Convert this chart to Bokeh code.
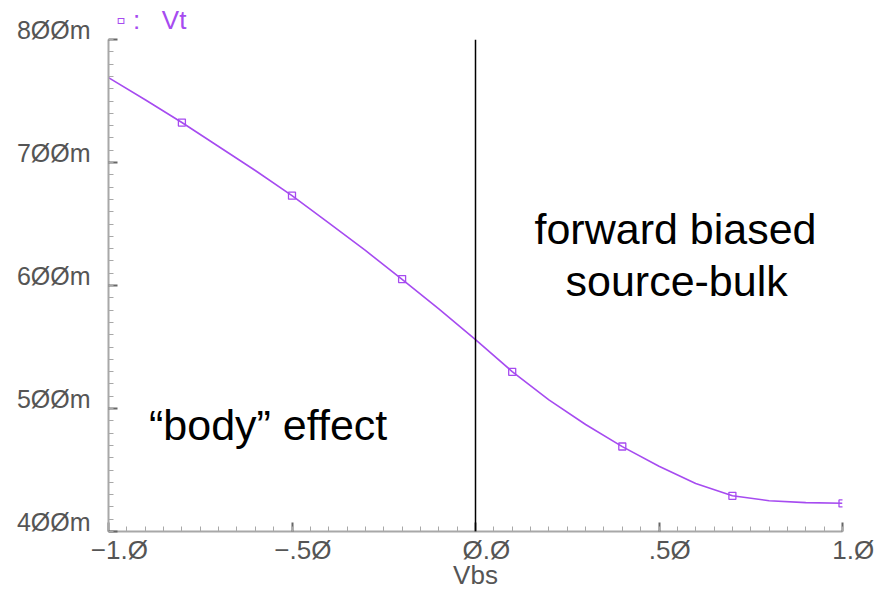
from bokeh.plotting import figure
from bokeh.models import SingleIntervalTicker, Span, Label, Range1d
from bokeh.embed import file_html
from bokeh.resources import INLINE

# ---- data ----
vbs = [-1.0, -0.9, -0.8, -0.7, -0.6, -0.5, -0.4, -0.3, -0.2, -0.1, 0.0,
       0.1, 0.2, 0.3, 0.4, 0.5, 0.6, 0.7, 0.8, 0.9, 1.0]
vt_mv = [769, 751, 732.5, 713, 693.5, 673, 651, 628.5, 605, 581, 556,
         530, 507, 487, 469, 453, 439, 429, 425, 423.5, 423]
marker_vbs = [-0.8, -0.5, -0.2, 0.1, 0.4, 0.7, 1.0]
marker_vt = [732.5, 673, 605.2, 529.8, 469.1, 429, 422.8]

x_ticks = [-1.0, -0.5, 0.0, 0.5, 1.0]
x_tick_labels = ["\u22121.\u00d8", "\u2212.5\u00d8", "\u00d8.\u00d8", ".5\u00d8", "1.\u00d8"]
y_ticks = [400, 500, 600, 700, 800]
y_tick_labels = ["4\u00d8\u00d8m", "5\u00d8\u00d8m", "6\u00d8\u00d8m", "7\u00d8\u00d8m", "8\u00d8\u00d8m"]

PURPLE = "#a64bf0"
GRAY = "#555555"
AXIS_GRAY = "#a8a8a8"
FONT = "Liberation Sans"
NB = "\u00a0"

p = figure(width=875, height=592, output_backend="svg", toolbar_location=None,
           x_range=Range1d(-1.0, 1.0), y_range=Range1d(400, 800),
           min_border_left=108, min_border_right=33, min_border_top=39, min_border_bottom=60,
           title="\u25ab" + NB + ":" + NB * 3 + "Vt")
p.title.text_font = FONT
p.title.text_font_size = "26px"
p.title.text_font_style = "normal"
p.title.text_color = PURPLE
p.title.align = "left"
p.title.vertical_align = "top"
p.title.offset = 8
p.title.standoff = 6
p.outline_line_color = None
p.grid.visible = False
p.background_fill_color = "white"
p.border_fill_color = "white"

# axes
p.xaxis.ticker = SingleIntervalTicker(interval=0.5, num_minor_ticks=10)
p.yaxis.ticker = SingleIntervalTicker(interval=100, num_minor_ticks=10)
p.xaxis.major_label_overrides = {t: NB * 3 + s for t, s in zip(x_ticks, x_tick_labels)}
p.yaxis.major_label_overrides = {t: s + "\n" for t, s in zip(y_ticks, y_tick_labels)}

for ax in (p.xaxis[0], p.yaxis[0]):
    ax.axis_line_color = AXIS_GRAY
    ax.axis_line_width = 2
    ax.major_tick_line_color = "#666666"
    ax.minor_tick_line_color = AXIS_GRAY
    ax.major_tick_line_width = 2
    ax.major_tick_in = 9
    ax.major_tick_out = 0
    ax.minor_tick_in = 5
    ax.minor_tick_out = 0
    ax.major_label_text_font = FONT
    ax.major_label_text_color = GRAY

p.xaxis.major_label_text_font_size = "26px"
p.xaxis.major_label_standoff = 3
p.xaxis.axis_label = "Vbs"
p.xaxis.axis_label_text_font = FONT
p.xaxis.axis_label_text_font_size = "26px"
p.xaxis.axis_label_text_font_style = "normal"
p.xaxis.axis_label_text_color = GRAY
p.xaxis.axis_label_standoff = -8
p.yaxis.major_label_text_font_size = "25px"
p.yaxis.major_label_standoff = 18
p.yaxis.major_label_text_line_height = 0.68

# zero line
p.add_layout(Span(location=0.0, dimension="height", line_color="black", line_width=1.5))

# curve and markers
p.line(vbs, vt_mv, line_color=PURPLE, line_width=1.6)
p.scatter(marker_vbs, marker_vt, marker="square", size=7, line_color=PURPLE,
          fill_color=None, line_width=1.3)

# annotations
for txt, x, y in [("forward biased", 0.545, 646.1), ("source-bulk", 0.548, 603.3),
                  ("\u201cbody\u201d effect", -0.565, 486.7)]:
    p.add_layout(Label(x=x, y=y, text=txt, text_font=FONT, text_font_size="43px",
                       text_color="black", text_align="center", text_baseline="alphabetic"))

open("out.html", "w").write(file_html(p, INLINE))
